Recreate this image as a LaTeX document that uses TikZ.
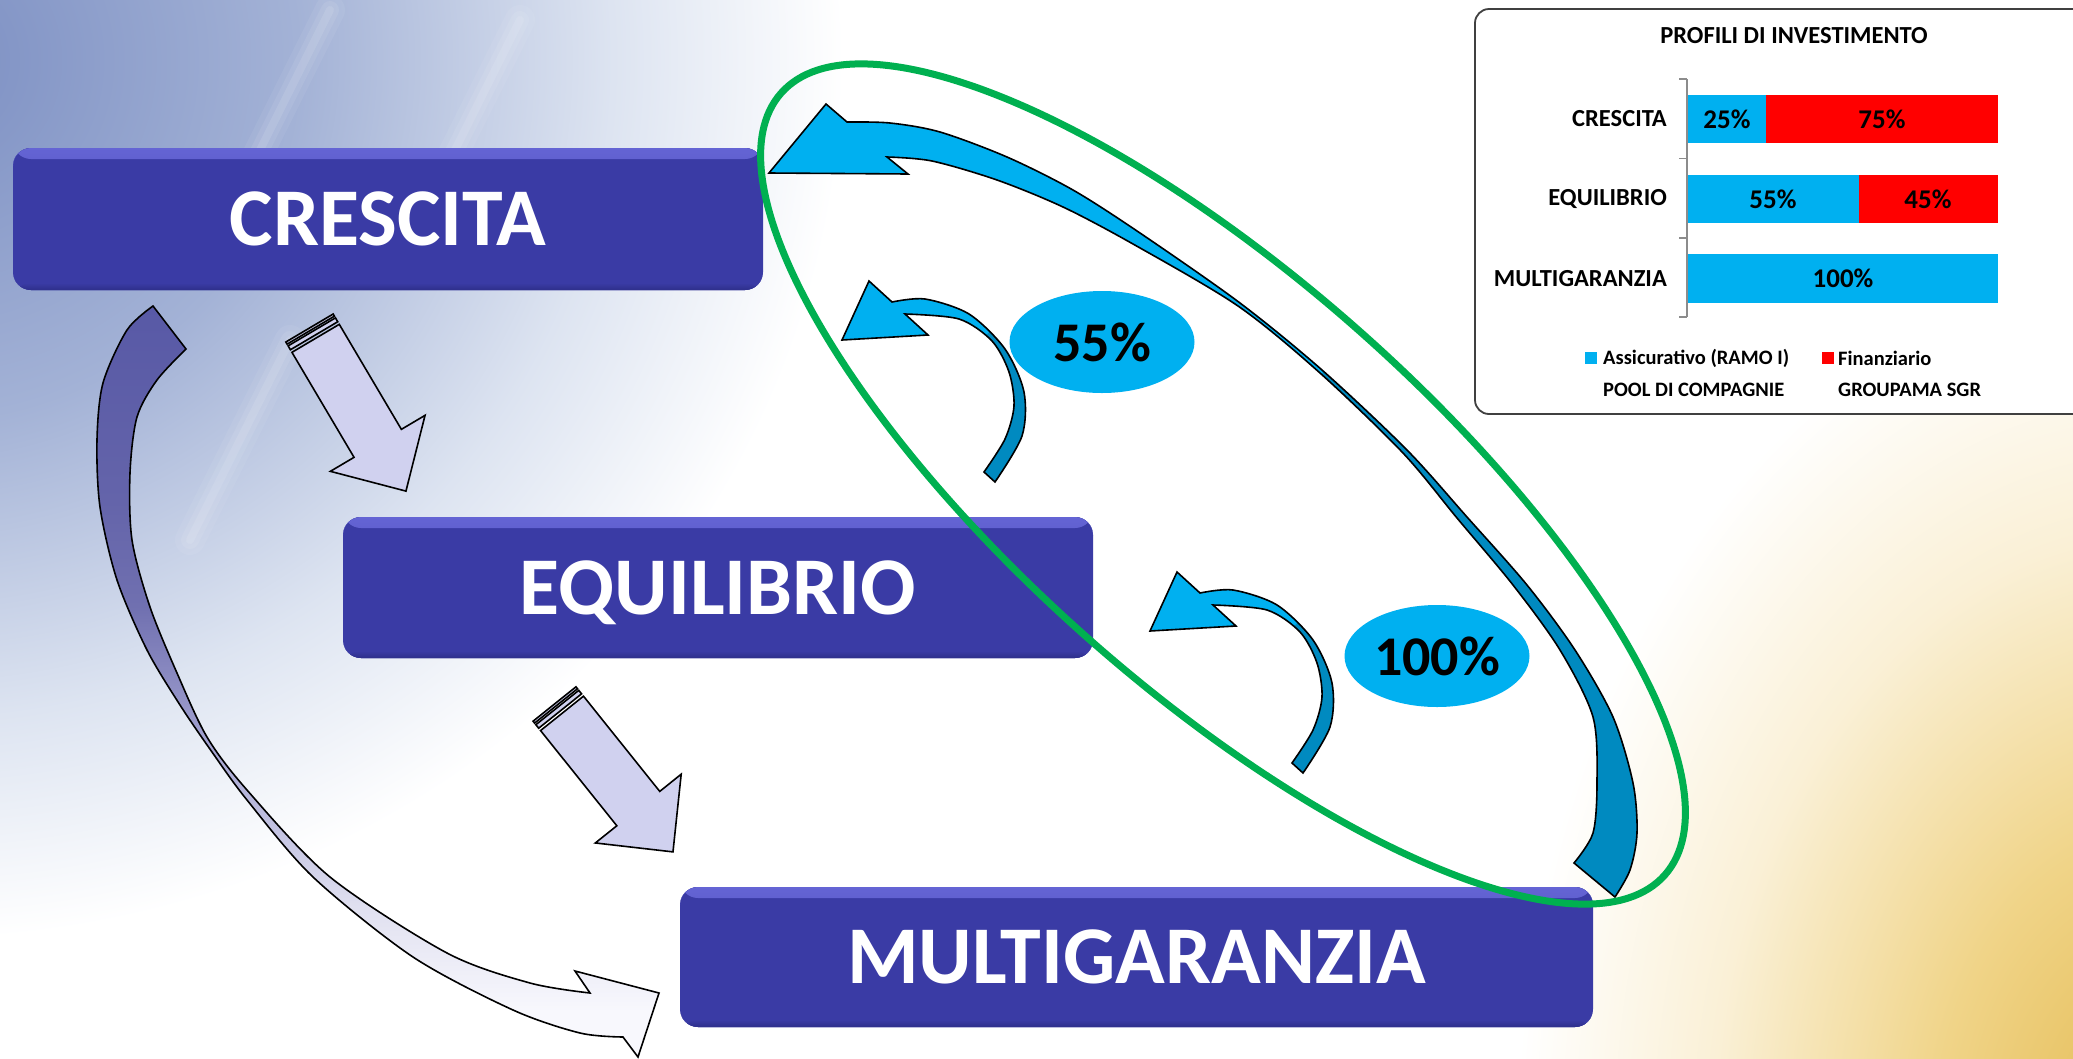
\documentclass[tikz,border=0pt]{standalone}
\usepackage{fontspec}
\setmainfont{Carlito}
\usetikzlibrary{shapes.geometric}
\definecolor{cyanA}{HTML}{00B0F0}
\definecolor{cyanD}{HTML}{008AC0}
\definecolor{greenE}{HTML}{00B050}
\definecolor{boxblue}{HTML}{3A3BA5}
\definecolor{boxlight}{HTML}{6464D4}
\definecolor{boxdark}{HTML}{2E2F8A}
\definecolor{redR}{HTML}{FF0000}
\definecolor{purpleT}{HTML}{5859A6}
\definecolor{purpleU}{HTML}{6464AA}
\definecolor{purpleV}{HTML}{7070B0}
\definecolor{purpleW}{HTML}{A8A8D4}
\definecolor{purpleX}{HTML}{E0E0F0}
\definecolor{purpleY}{HTML}{F8F8FD}
\definecolor{lav}{HTML}{D0D1EF}
\definecolor{bgA}{HTML}{7B8EC2}
\definecolor{bgB}{HTML}{A3B2D6}
\definecolor{bgC}{HTML}{DDE4F1}
\definecolor{goldA}{HTML}{E3B94F}
\definecolor{goldB}{HTML}{F0D488}
\definecolor{goldC}{HTML}{FAF0D6}
\pgfdeclareradialshading{bgblue}{\pgfpoint{0bp}{0bp}}{color(0bp)=(bgA); color(9bp)=(bgB); color(16.5bp)=(bgC); color(22bp)=(white); color(50bp)=(white)}
\pgfdeclareradialshading{bggold}{\pgfpoint{0bp}{0bp}}{color(0bp)=(goldA); color(8bp)=(goldB); color(16bp)=(goldC); color(23bp)=(white); color(50bp)=(white)}
\pgfdeclareverticalshading{purpshade}{100bp}{color(0bp)=(purpleY); color(28bp)=(purpleY); color(35bp)=(purpleX); color(45bp)=(purpleW); color(55bp)=(purpleV); color(62bp)=(purpleU); color(75bp)=(purpleT); color(100bp)=(purpleT)}

\newcommand\BigArrowPath{(769,173) -- (826,104) -- (847,122) -- plot[smooth] coordinates {(847,122) (890,123) (940,132) (1007,157) (1073,190) (1140,233) (1240,303) (1322,370) (1407,450) (1467,517) (1527,585) (1575,650) (1613,717) (1633,783) (1637,833) (1630,870) (1615,897)} -- (1574,863) -- plot[smooth] coordinates {(1574,863) (1593,833) (1597,783) (1593,717) (1560,650) (1513,585) (1457,518) (1403,453) (1320,373) (1238,306) (1133,244) (1063,207) (997,180) (932,161) (887,157)} -- (908,174) -- cycle}
\newcommand\SmallArrowPath{(1150,631) -- (1177,572) -- (1200,593) -- plot[smooth] coordinates {(1200,593) (1233,590) (1277,605) (1313,640) (1332,683) (1330,727) (1303,773)} -- (1292,763) -- plot[smooth] coordinates {(1292,763) (1313,730) (1322,697) (1317,663) (1300,632) (1267,610) (1213,605)} -- (1236,626) -- cycle}
\newcommand\PurpleArrowPath{(153,306) -- (186,349) -- plot[smooth] coordinates {(186,349) (157,380) (137,417) (130,473) (132,540) (150,607) (177,673) (207,737) (247,790) (330,877) (447,953) (530,983) (590,993)} -- (575,971) -- (659,993) -- (638,1057) -- (623,1037) -- plot[smooth] coordinates {(623,1037) (580,1033) (513,1010) (413,957) (313,877) (247,800) (212,752) (180,705) (147,650) (117,580) (100,507) (97,440) (103,383) (127,330) (153,306)} -- cycle}
\newcommand\StripedArrowShape{%
  \filldraw[stripearrow] (0,-27.5) rectangle (2.5,27.5);
  \filldraw[stripearrow] (4.5,-27.5) rectangle (9,27.5);
  \filldraw[stripearrow] (12,-27.5) -- (134,-27.5) -- (134,-55) -- (189.5,0) -- (134,55) -- (134,27.5) -- (12,27.5) -- cycle;}

\begin{document}
\begin{tikzpicture}[x=1pt,y=-1pt,
  box/.style={rounded corners=18pt, fill=boxblue, text=white, inner sep=0pt, text depth=0pt,
    font=\fontsize{82}{90}\selectfont\bfseries,
    path picture={
      \fill[top color=boxlight, bottom color=boxblue] (path picture bounding box.north west) rectangle ([yshift=-11pt]path picture bounding box.north east);
      \fill[top color=boxblue, bottom color=boxdark] ([yshift=7pt]path picture bounding box.south west) rectangle (path picture bounding box.south east);
    }},
  pct/.style={ellipse, fill=cyanA, minimum width=185pt, minimum height=102pt, inner sep=0pt, text=black, font=\fontsize{56}{60}\selectfont\bfseries},
  outl/.style={draw=black, line width=1.6pt, line join=miter},
  stripearrow/.style={fill=lav, draw=black, line width=1.6pt, line join=miter},
  chartlbl/.style={font=\fontsize{24.5}{26}\selectfont\bfseries, inner sep=0pt, text=black},
  chartval/.style={font=\fontsize{27}{29}\selectfont\bfseries, inner sep=0pt, text=black},
  legtxt/.style={font=\fontsize{20.5}{22}\selectfont\bfseries, inner sep=0pt, anchor=west, text=black}
]
\useasboundingbox (0,0) rectangle (2073,1058);
% background
\begin{scope}
  \clip (0,0) rectangle (2073,1058);
  \fill[white] (0,0) rectangle (2073,1058);
  \shade[shading=bgblue] (-80,60) ellipse [x radius=1050, y radius=1000];
  \shade[shading=bggold] (2160,1140) ellipse [x radius=700, y radius=950];
  \foreach \w/\o in {30/0.06, 18/0.08, 8/0.10} {
    \draw[white, opacity=\o, line width=\w pt, line cap=round] (330,10) -- (230,210);
    \draw[white, opacity=\o, line width=\w pt, line cap=round] (290,340) -- (190,540);
    \draw[white, opacity=\o, line width=\w pt, line cap=round] (520,20) -- (430,200);
  }
\end{scope}

% chart
\draw[black!75, line width=1.8pt, fill=white, rounded corners=14pt] (1475,9) rectangle (2100,414);
\node[chartlbl] (ctitle) at (1794,36) {PROFILI DI INVESTIMENTO};
\draw[black!45, line width=1.5pt] (1687,79) -- (1687,317);
\foreach \yy in {79,158.5,238,317} \draw[black!45, line width=1.5pt] (1679,\yy) -- (1687,\yy);
\fill[cyanA] (1688,95) rectangle (1765.5,143);
\fill[redR] (1765.5,95) rectangle (1998,143);
\fill[cyanA] (1688,175) rectangle (1858.5,223);
\fill[redR] (1858.5,175) rectangle (1998,223);
\fill[cyanA] (1688,254) rectangle (1998,303);
\node[chartlbl, anchor=east] (lc) at (1667,119) {CRESCITA};
\node[chartlbl, anchor=east] (le) at (1667,199) {EQUILIBRIO};
\node[chartlbl, anchor=east] (lm) at (1667,278.5) {MULTIGARANZIA};
\node[chartval] (v25) at (1727,119) {25\%};
\node[chartval] (v75) at (1882,119) {75\%};
\node[chartval] (v55) at (1773,199) {55\%};
\node[chartval] (v45) at (1928,199) {45\%};
\node[chartval] (v100) at (1843,278.5) {100\%};
\fill[cyanA] (1585,352) rectangle (1597,364);
\node[legtxt] (l1) at (1603,358) {Assicurativo (RAMO I)};
\node[legtxt] (l2) at (1603,390) {POOL DI COMPAGNIE};
\fill[redR] (1822,352) rectangle (1834,364);
\node[legtxt] (l3) at (1838,358) {Finanziario};
\node[legtxt] (l4) at (1838,390) {GROUPAMA SGR};

% striped arrows
\begin{scope}[shift={(309.5,328)}, rotate=-59.4]
  \StripedArrowShape
\end{scope}
\begin{scope}[shift={(554.5,704)}, rotate=-51.3]
  \StripedArrowShape
\end{scope}

% purple curved arrow
\shade[shading=purpshade] \PurpleArrowPath;
\draw[outl] \PurpleArrowPath;

% boxes
\node[box, minimum width=750pt, minimum height=142pt] (cres) at (388,219) {CRESCITA};
\node[box, minimum width=750pt, minimum height=141pt] (equi) at (718,587.5) {EQUILIBRIO};
\node[box, minimum width=913pt, minimum height=140pt] (multi) at (1136.5,957) {MULTIGARANZIA};

% big blue arrow
\fill[cyanD] \BigArrowPath;
\begin{scope}
  \clip \BigArrowPath;
  \fill[cyanA] (700,0) -- (1420,0) -- (1420,275) -- (1220,475) -- (700,475) -- cycle;
\end{scope}
\draw[outl] \BigArrowPath;

% small blue arrows
\foreach \dx/\dy in {-308/-291, 0/0} {
  \begin{scope}[shift={(\dx,\dy)}]
    \fill[cyanD] \SmallArrowPath;
    \begin{scope}
      \clip \SmallArrowPath;
      \fill[cyanA] (1100,500) -- (1395,500) -- (1395,525) -- (1195,725) -- (1100,725) -- cycle;
    \end{scope}
    \draw[outl] \SmallArrowPath;
  \end{scope}
}

% green ellipse
\draw[greenE, line width=7pt, rotate around={-41.5:(1223,484)}] (1223,484) ellipse [x radius=590, y radius=205];

% percentages
\node[pct] (p55) at (1102,342) {55\%};
\node[pct] (p100) at (1437,656) {100\%};
\end{tikzpicture}
\end{document}
